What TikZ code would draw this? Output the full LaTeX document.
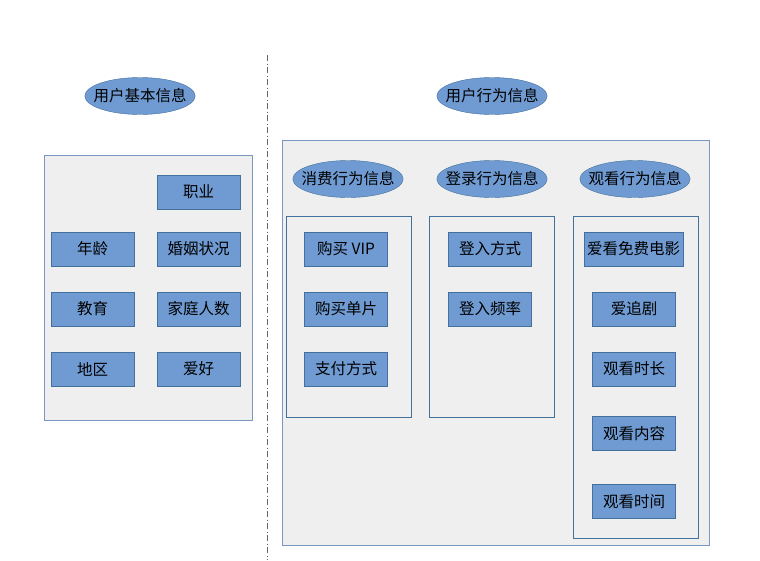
\documentclass[tikz,border=0pt]{standalone}
\usepackage{fontspec}
\setmainfont{Noto Sans CJK SC}
\usetikzlibrary{shapes.geometric}

\definecolor{itemblue}{HTML}{6F9BD2}
\definecolor{itemline}{HTML}{41719C}
\definecolor{panelfill}{HTML}{EFEFEF}
\definecolor{panelline}{HTML}{7A97C0}

\begin{document}
\begin{tikzpicture}[
        x=1pt, y=-1pt,
        every node/.style={font=\fontsize{15.5}{18}\selectfont, text=black},
        item/.style={rectangle, draw=itemline, fill=itemblue, minimum width=83pt, minimum height=34pt, inner sep=0pt},
        wideitem/.style={item, minimum width=99pt},
        tag/.style={ellipse, draw=itemline, fill=itemblue, minimum width=110pt, minimum height=37pt, inner xsep=-7.5pt, inner ysep=0pt},
        panel/.style={draw=panelline, fill=panelfill},
        subpanel/.style={draw=itemline, fill=panelfill},
        divider/.style={draw=black!60, thick, dash pattern=on 6pt off 2.5pt on 1pt off 2.5pt}
        ]
        \useasboundingbox (0,0) rectangle (760,560);

        % Divider between the two halves
        \draw[divider] (267,55) -- (267,560);

        % Basic user information
        \node[tag] (basic) at (140,96) {用户基本信息};
        \draw[panel] (44,155) rectangle (252,420);
        \node[item] (job) at (198.5,192) {职业};
        \node[item] (age) at (92.5,249) {年龄};
        \node[item] (marriage) at (198.5,249) {婚姻状况};
        \node[item] (edu) at (92.5,309) {教育};
        \node[item] (family) at (198.5,309) {家庭人数};
        \node[item] (region) at (92.5,369) {地区};
        \node[item] (hobby) at (198.5,369) {爱好};

        % User behaviour information
        \node[tag] (behave) at (492,96) {用户行为信息};
        \draw[panel] (282,140) rectangle (709,545);

        % Three behaviour groups
        \node[tag] (pay) at (348,179) {消费行为信息};
        \node[tag] (login) at (492,179) {登录行为信息};
        \node[tag] (watch) at (635,179) {观看行为信息};
        \draw[subpanel] (286,216) rectangle (411,417);
        \draw[subpanel] (429,216) rectangle (554,417);
        \draw[subpanel] (573,216) rectangle (698,538);

        \node[item] (vip) at (346,249) {购买 VIP};
        \node[item] (single) at (346,309) {购买单片};
        \node[item] (paymode) at (346,369) {支付方式};

        \node[item] (loginmode) at (490,249) {登入方式};
        \node[item] (loginfreq) at (490,309) {登入频率};

        \node[wideitem] (freemovie) at (633.5,249) {爱看免费电影};
        \node[item] (series) at (634,309) {爱追剧};
        \node[item] (duration) at (634,369) {观看时长};
        \node[item] (content) at (634,433.5) {观看内容};
        \node[item] (watchtime) at (634,501.5) {观看时间};

    \end{tikzpicture}
\end{document}
